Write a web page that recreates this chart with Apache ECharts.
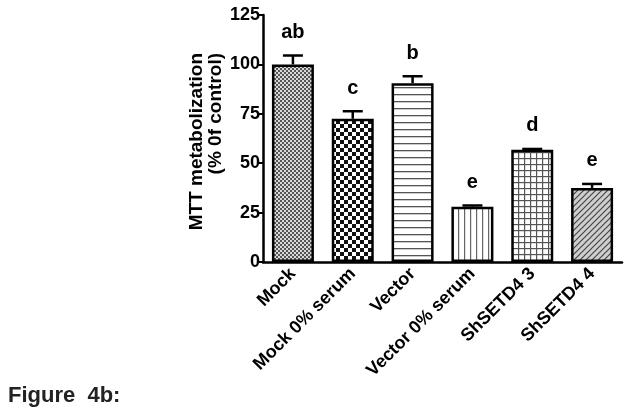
<!DOCTYPE html>
<html>
<head>
<meta charset="utf-8">
<script src="https://cdn.jsdelivr.net/npm/echarts@6/dist/echarts.min.js"></script>
<style>
  html, body { margin: 0; padding: 0; background: #fff; }
  #chart { width: 632px; height: 419px; }
</style>
</head>
<body>
<div id="chart"></div>
<script>
// Data
const categories = ['Mock', 'Mock 0% serum', 'Vector', 'Vector 0% serum', 'ShSETD4 3', 'ShSETD4 4'];
const means = [100, 72.5, 90.5, 28, 56.8, 37.5];
const errors = [4.5, 3.8, 3.5, 0.6, 0.4, 2];
const letters = ['ab', 'c', 'b', 'e', 'd', 'e'];
const yTicks = [0, 25, 50, 75, 100, 125];

const FONT = 'Liberation Sans, Arial, sans-serif';

// Small canvas tiles for the bar fills
function makePattern(size, draw) {
    const c = document.createElement('canvas');
    c.width = size;
    c.height = size;
    const ctx = c.getContext('2d');
    draw(ctx, size);
    return { image: c, repeat: 'repeat' };
}

const patterns = [
    // fine grey checker
    makePattern(4, (ctx) => {
        ctx.fillStyle = '#d8d8d8'; ctx.fillRect(0, 0, 4, 4);
        ctx.fillStyle = '#555'; ctx.fillRect(0, 0, 2, 2); ctx.fillRect(2, 2, 2, 2);
    }),
    // coarse black/white checker
    makePattern(8, (ctx) => {
        ctx.fillStyle = '#fff'; ctx.fillRect(0, 0, 8, 8);
        ctx.fillStyle = '#111'; ctx.fillRect(0, 0, 4, 4); ctx.fillRect(4, 4, 4, 4);
    }),
    // horizontal lines
    makePattern(7, (ctx) => {
        ctx.fillStyle = '#fff'; ctx.fillRect(0, 0, 7, 7);
        ctx.fillStyle = '#555'; ctx.fillRect(0, 3, 7, 1.3);
    }),
    // vertical lines
    makePattern(6, (ctx) => {
        ctx.fillStyle = '#fff'; ctx.fillRect(0, 0, 6, 6);
        ctx.fillStyle = '#666'; ctx.fillRect(2, 0, 1.2, 6);
    }),
    // grid
    makePattern(6, (ctx) => {
        ctx.fillStyle = '#fff'; ctx.fillRect(0, 0, 6, 6);
        ctx.fillStyle = '#555'; ctx.fillRect(2, 0, 1.2, 6); ctx.fillRect(0, 2, 6, 1.2);
    }),
    // grey diagonal hatch
    makePattern(6, (ctx) => {
        ctx.fillStyle = '#cfcfcf'; ctx.fillRect(0, 0, 6, 6);
        ctx.strokeStyle = '#444'; ctx.lineWidth = 1.2;
        ctx.beginPath();
        ctx.moveTo(0, 6); ctx.lineTo(6, 0);
        ctx.moveTo(-3, 3); ctx.lineTo(3, -3);
        ctx.moveTo(3, 9); ctx.lineTo(9, 3);
        ctx.stroke();
    })
];

const chart = echarts.init(document.getElementById('chart'));

const option = {
    animation: false,
    grid: { left: 263, right: 10, top: 15, bottom: 157 },
    xAxis: {
        type: 'category',
        data: categories,
        axisLine: { lineStyle: { color: '#000', width: 2.5 } },
        axisTick: { alignWithLabel: true, length: 5, lineStyle: { color: '#000', width: 2 } },
        axisLabel: {
            rotate: 45, margin: 9, interval: 0,
            color: '#000', fontFamily: FONT, fontWeight: 'bold', fontSize: 18
        }
    },
    yAxis: {
        type: 'value',
        min: 0, max: 125, interval: 25,
        axisLine: { show: true, lineStyle: { color: '#000', width: 2.5 } },
        axisTick: { show: true, length: 6, lineStyle: { color: '#000', width: 2 } },
        axisLabel: {
            margin: 3, color: '#000', fontFamily: FONT, fontWeight: 'bold', fontSize: 18,
            formatter: (v) => yTicks.includes(v) ? String(v) : ''
        },
        splitLine: { show: false }
    },
    series: [
        {
            type: 'bar',
            barWidth: 42,
            data: means.map((v, i) => ({ value: v, itemStyle: { color: patterns[i] } })),
            itemStyle: { borderColor: '#000', borderWidth: 2.5 }
        },
        {
            type: 'custom',
            z: 5,
            data: means.map((v, i) => [i, v, v + errors[i]]),
            renderItem: function (params, api) {
                const i = api.value(0);
                const base = api.coord([i, api.value(1)]);
                const top = api.coord([i, api.value(2)]);
                const x = base[0];
                return {
                    type: 'group',
                    children: [
                        { type: 'line', shape: { x1: x, y1: base[1], x2: x, y2: top[1] },
                          style: { stroke: '#000', lineWidth: 2.5 } },
                        { type: 'line', shape: { x1: x - 10, y1: top[1], x2: x + 10, y2: top[1] },
                          style: { stroke: '#000', lineWidth: 2.5 } },
                        { type: 'text', x: x, y: top[1] - 23,
                          style: { text: letters[i], fill: '#000', font: 'bold 20px ' + FONT,
                                   align: 'center', verticalAlign: 'middle' } }
                    ]
                };
            }
        }
    ],
    graphic: [
        // y axis title, two lines aligned at the top
        { type: 'text', x: 206, y: 53, rotation: Math.PI / 2,
          style: { text: 'MTT metabolization\n(% 0f control)', fill: '#000',
                   font: 'bold 19px ' + FONT, lineHeight: 19,
                   align: 'right', verticalAlign: 'middle' } },
        { type: 'text', left: 8, top: 385,
          style: { text: 'Figure  4b:', fill: '#222', font: 'bold 22px ' + FONT } }
    ]
};

chart.setOption(option);
</script>
</body>
</html>
